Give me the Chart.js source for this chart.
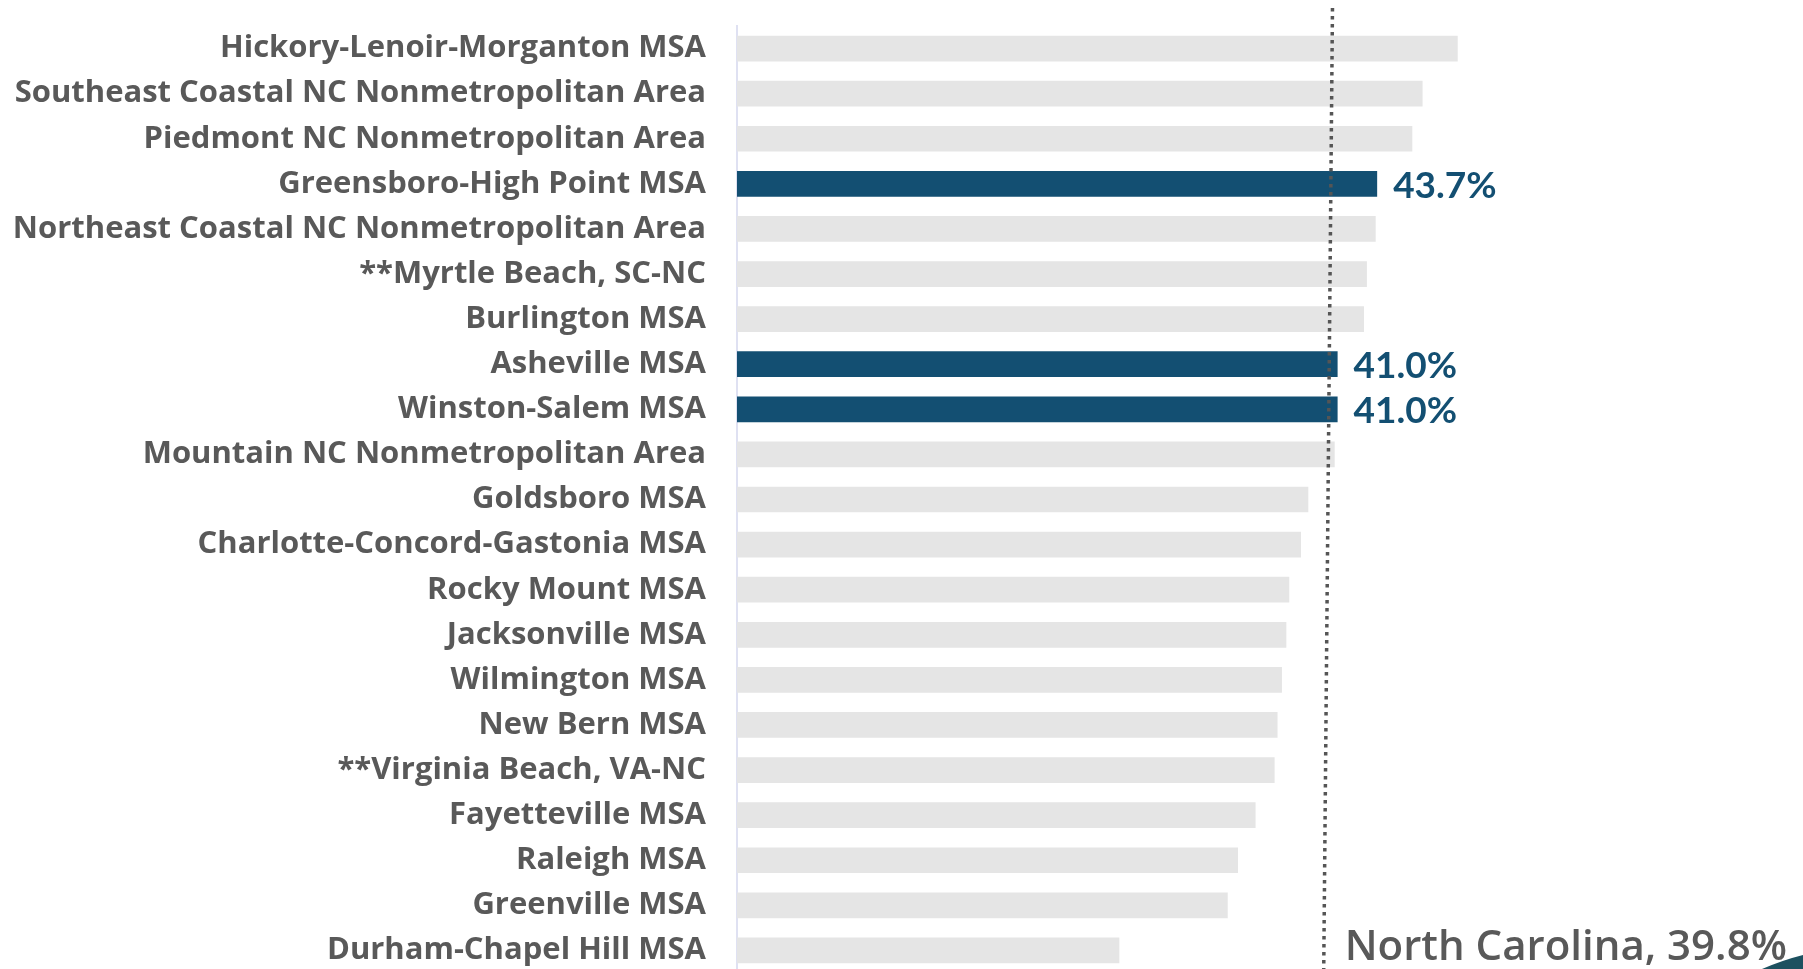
<!DOCTYPE html>
<html>
<head>
<meta charset="utf-8">
<script src="https://cdn.jsdelivr.net/npm/chart.js@4.4.1/dist/chart.umd.min.js"></script>
<style>
html, body { margin: 0; padding: 0; background: #fff; overflow: hidden; }
#wrap { width: 1803px; height: 973px; }
</style>
</head>
<body>
<div id="wrap"><canvas id="chart1"></canvas></div>
<script>
var areas = [
	'Hickory-Lenoir-Morganton MSA',
	'Southeast Coastal NC Nonmetropolitan Area',
	'Piedmont NC Nonmetropolitan Area',
	'Greensboro-High Point MSA',
	'Northeast Coastal NC Nonmetropolitan Area',
	'**Myrtle Beach, SC-NC',
	'Burlington MSA',
	'Asheville MSA',
	'Winston-Salem MSA',
	'Mountain NC Nonmetropolitan Area',
	'Goldsboro MSA',
	'Charlotte-Concord-Gastonia MSA',
	'Rocky Mount MSA',
	'Jacksonville MSA',
	'Wilmington MSA',
	'New Bern MSA',
	'**Virginia Beach, VA-NC',
	'Fayetteville MSA',
	'Raleigh MSA',
	'Greenville MSA',
	'Durham-Chapel Hill MSA'
];
var shares = [49.2, 46.8, 46.1, 43.7, 43.6, 43.0, 42.8, 41.0, 41.0, 40.8, 39.0,
	38.5, 37.7, 37.5, 37.2, 36.9, 36.7, 35.4, 34.2, 33.5, 26.1];
var highlighted = ['Greensboro-High Point MSA', 'Asheville MSA', 'Winston-Salem MSA'];

var stateName = 'North Carolina';
var stateShare = 39.8;
// the dotted state line in the original sits a bit right of 39.8 and leans a little
var stateLineTop = 40.65;
var stateLineBottom = 40.05;

var grey = '#e5e5e5';
var darkBlue = '#134f72';
var textGrey = '#595959';

// the last bar band runs a few px past the bottom of the window
var viewHeight = 969;

var barColors = areas.map(function(a) {
	return highlighted.indexOf(a) >= 0 ? darkBlue : grey;
});

var annotations = {
	id: 'annotations',
	afterDatasetsDraw: function(chart) {
		var ctx = chart.ctx;
		var x = chart.scales.x;
		var meta = chart.getDatasetMeta(0);
		ctx.save();

		// value labels on the highlighted bars
		ctx.font = 'bold 37px Lato';
		ctx.fillStyle = darkBlue;
		ctx.textBaseline = 'middle';
		ctx.textAlign = 'left';
		meta.data.forEach(function(bar, i) {
			if (highlighted.indexOf(areas[i]) < 0) return;
			ctx.fillText(shares[i].toFixed(1) + '%', bar.x + 16, bar.y + 2);
		});

		// dotted state average line
		var x0 = x.getPixelForValue(stateLineTop);
		var x1 = x.getPixelForValue(stateLineBottom);
		ctx.strokeStyle = '#555555';
		ctx.lineWidth = 3.5;
		ctx.setLineDash([3.5, 4.5]);
		ctx.beginPath();
		ctx.moveTo(x0, 8);
		ctx.lineTo(x1, chart.height);
		ctx.stroke();
		ctx.setLineDash([]);

		ctx.font = '600 42px "Open Sans"';
		ctx.fillStyle = textGrey;
		ctx.textBaseline = 'alphabetic';
		ctx.fillText(stateName + ', ' + stateShare.toFixed(1) + '%', x1 + 21, viewHeight - 9);

		// little corner swoosh from the slide
		var w = chart.width;
		ctx.fillStyle = '#1d5160';
		ctx.beginPath();
		ctx.moveTo(w - 41, viewHeight);
		ctx.quadraticCurveTo(w - 20, viewHeight - 9, w, viewHeight - 14);
		ctx.lineTo(w, chart.height);
		ctx.lineTo(w - 41, chart.height);
		ctx.closePath();
		ctx.fill();
		ctx.restore();
	}
};

var ctx = document.getElementById('chart1').getContext('2d');
new Chart(ctx, {
	type: 'bar',
	data: {
		labels: areas,
		datasets: [{
			data: shares,
			backgroundColor: barColors,
			categoryPercentage: 1,
			barPercentage: 0.57
		}]
	},
	options: {
		indexAxis: 'y',
		responsive: true,
		maintainAspectRatio: false,
		animation: false,
		layout: { padding: { top: 26, bottom: 0, left: 0, right: 0 } },
		plugins: {
			legend: { display: false },
			tooltip: { enabled: false }
		},
		scales: {
			x: {
				display: false,
				min: 0,
				max: 72.77
			},
			y: {
				grid: { display: false, drawTicks: false },
				border: { display: true, color: '#dfe1f2', width: 2 },
				ticks: {
					color: textGrey,
					autoSkip: false,
					padding: 31,
					font: { family: 'Open Sans', weight: 'bold', size: 31 }
				},
				afterFit: function(scale) {
					scale.width = 737;
					scale.paddingTop = 0;
					scale.paddingBottom = 0;
				}
			}
		}
	},
	plugins: [annotations]
});
</script>
</body>
</html>
